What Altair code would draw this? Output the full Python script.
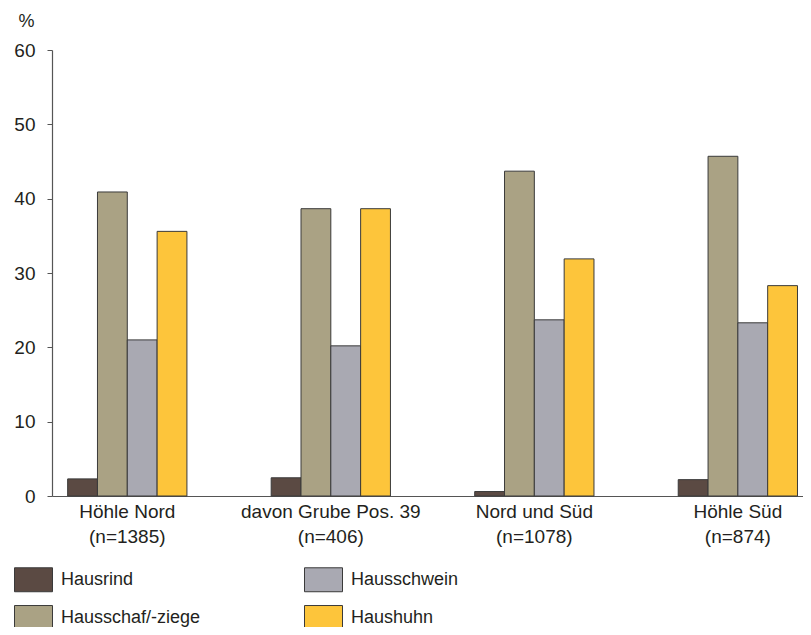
import altair as alt
import pandas as pd

sites = ["Höhle Nord|(n=1385)", "davon Grube Pos. 39|(n=406)", "Nord und Süd|(n=1078)", "Höhle Süd|(n=874)"]
species = ["Hausrind", "Hausschaf/-ziege", "Hausschwein", "Haushuhn"]
colors = {"Hausrind": "#5b4a43", "Hausschaf/-ziege": "#aaa284", "Hausschwein": "#a9a9b2", "Haushuhn": "#fdc53b"}

values = {
    "Hausrind":         [2.3, 2.45, 0.6, 2.2],
    "Hausschaf/-ziege": [40.9, 38.65, 43.7, 45.7],
    "Hausschwein":      [21.0, 20.2, 23.7, 23.3],
    "Haushuhn":         [35.6, 38.65, 31.9, 28.3],
}

rows = []
for sp in species:
    for site, v in zip(sites, values[sp]):
        rows.append({"site": site, "species": sp, "value": v})
df = pd.DataFrame(rows)

FONT = "Liberation Sans"
TXT = "#231f20"

chart = alt.Chart(df).mark_bar(stroke="#3a3a3a", strokeWidth=1).encode(
    x=alt.X("site:N", sort=sites,
            scale=alt.Scale(paddingInner=0.414, paddingOuter=0.052, align=0.74),
            axis=alt.Axis(title=None, labelAngle=0, ticks=False,
                          labelExpr="split(datum.label, '|')",
                          labelLineHeight=25, labelPadding=6, labelLimit=400,
                          labelFontSize=19, labelFont=FONT, labelColor=TXT,
                          domainColor="#555555", domainWidth=1.2)),
    xOffset=alt.XOffset("species:N", sort=species,
                        scale=alt.Scale(paddingInner=0, paddingOuter=0)),
    y=alt.Y("value:Q", scale=alt.Scale(domain=[0, 60], nice=False),
            axis=alt.Axis(values=[0, 10, 20, 30, 40, 50, 60], grid=False,
                          title="%", titleAngle=0, titleX=-26, titleY=-29,
                          titleAlign="center", titleBaseline="middle",
                          titleFontSize=18, titleFont=FONT, titleFontWeight="normal",
                          titleColor=TXT,
                          tickSize=5, tickColor="#555555", labelPadding=12,
                          labelFontSize=19, labelFont=FONT, labelColor=TXT,
                          domainColor="#555555", domainWidth=1.2)),
    color=alt.Color("species:N",
                    scale=alt.Scale(domain=species, range=[colors[s] for s in species]),
                    legend=alt.Legend(title=None, orient="none", legendX=-38, legendY=510,
                                      columns=2, columnPadding=101, rowPadding=4,
                                      symbolType="M-1,-0.63L1,-0.63L1,0.63L-1,0.63Z",
                                      symbolSize=1444, symbolStrokeColor="#3a3a3a",
                                      symbolStrokeWidth=1, symbolOpacity=1,
                                      labelFontSize=18, labelFont=FONT, labelColor=TXT,
                                      labelOffset=8, labelLimit=400)),
).properties(
    width=751, height=446,
    autosize=alt.AutoSizeParams(type="none"),
    padding={"left": 44, "top": 42, "right": 0, "bottom": 131},
).configure_view(stroke=None)

chart.save("out.html", embed_options={"renderer": "svg", "actions": False})
